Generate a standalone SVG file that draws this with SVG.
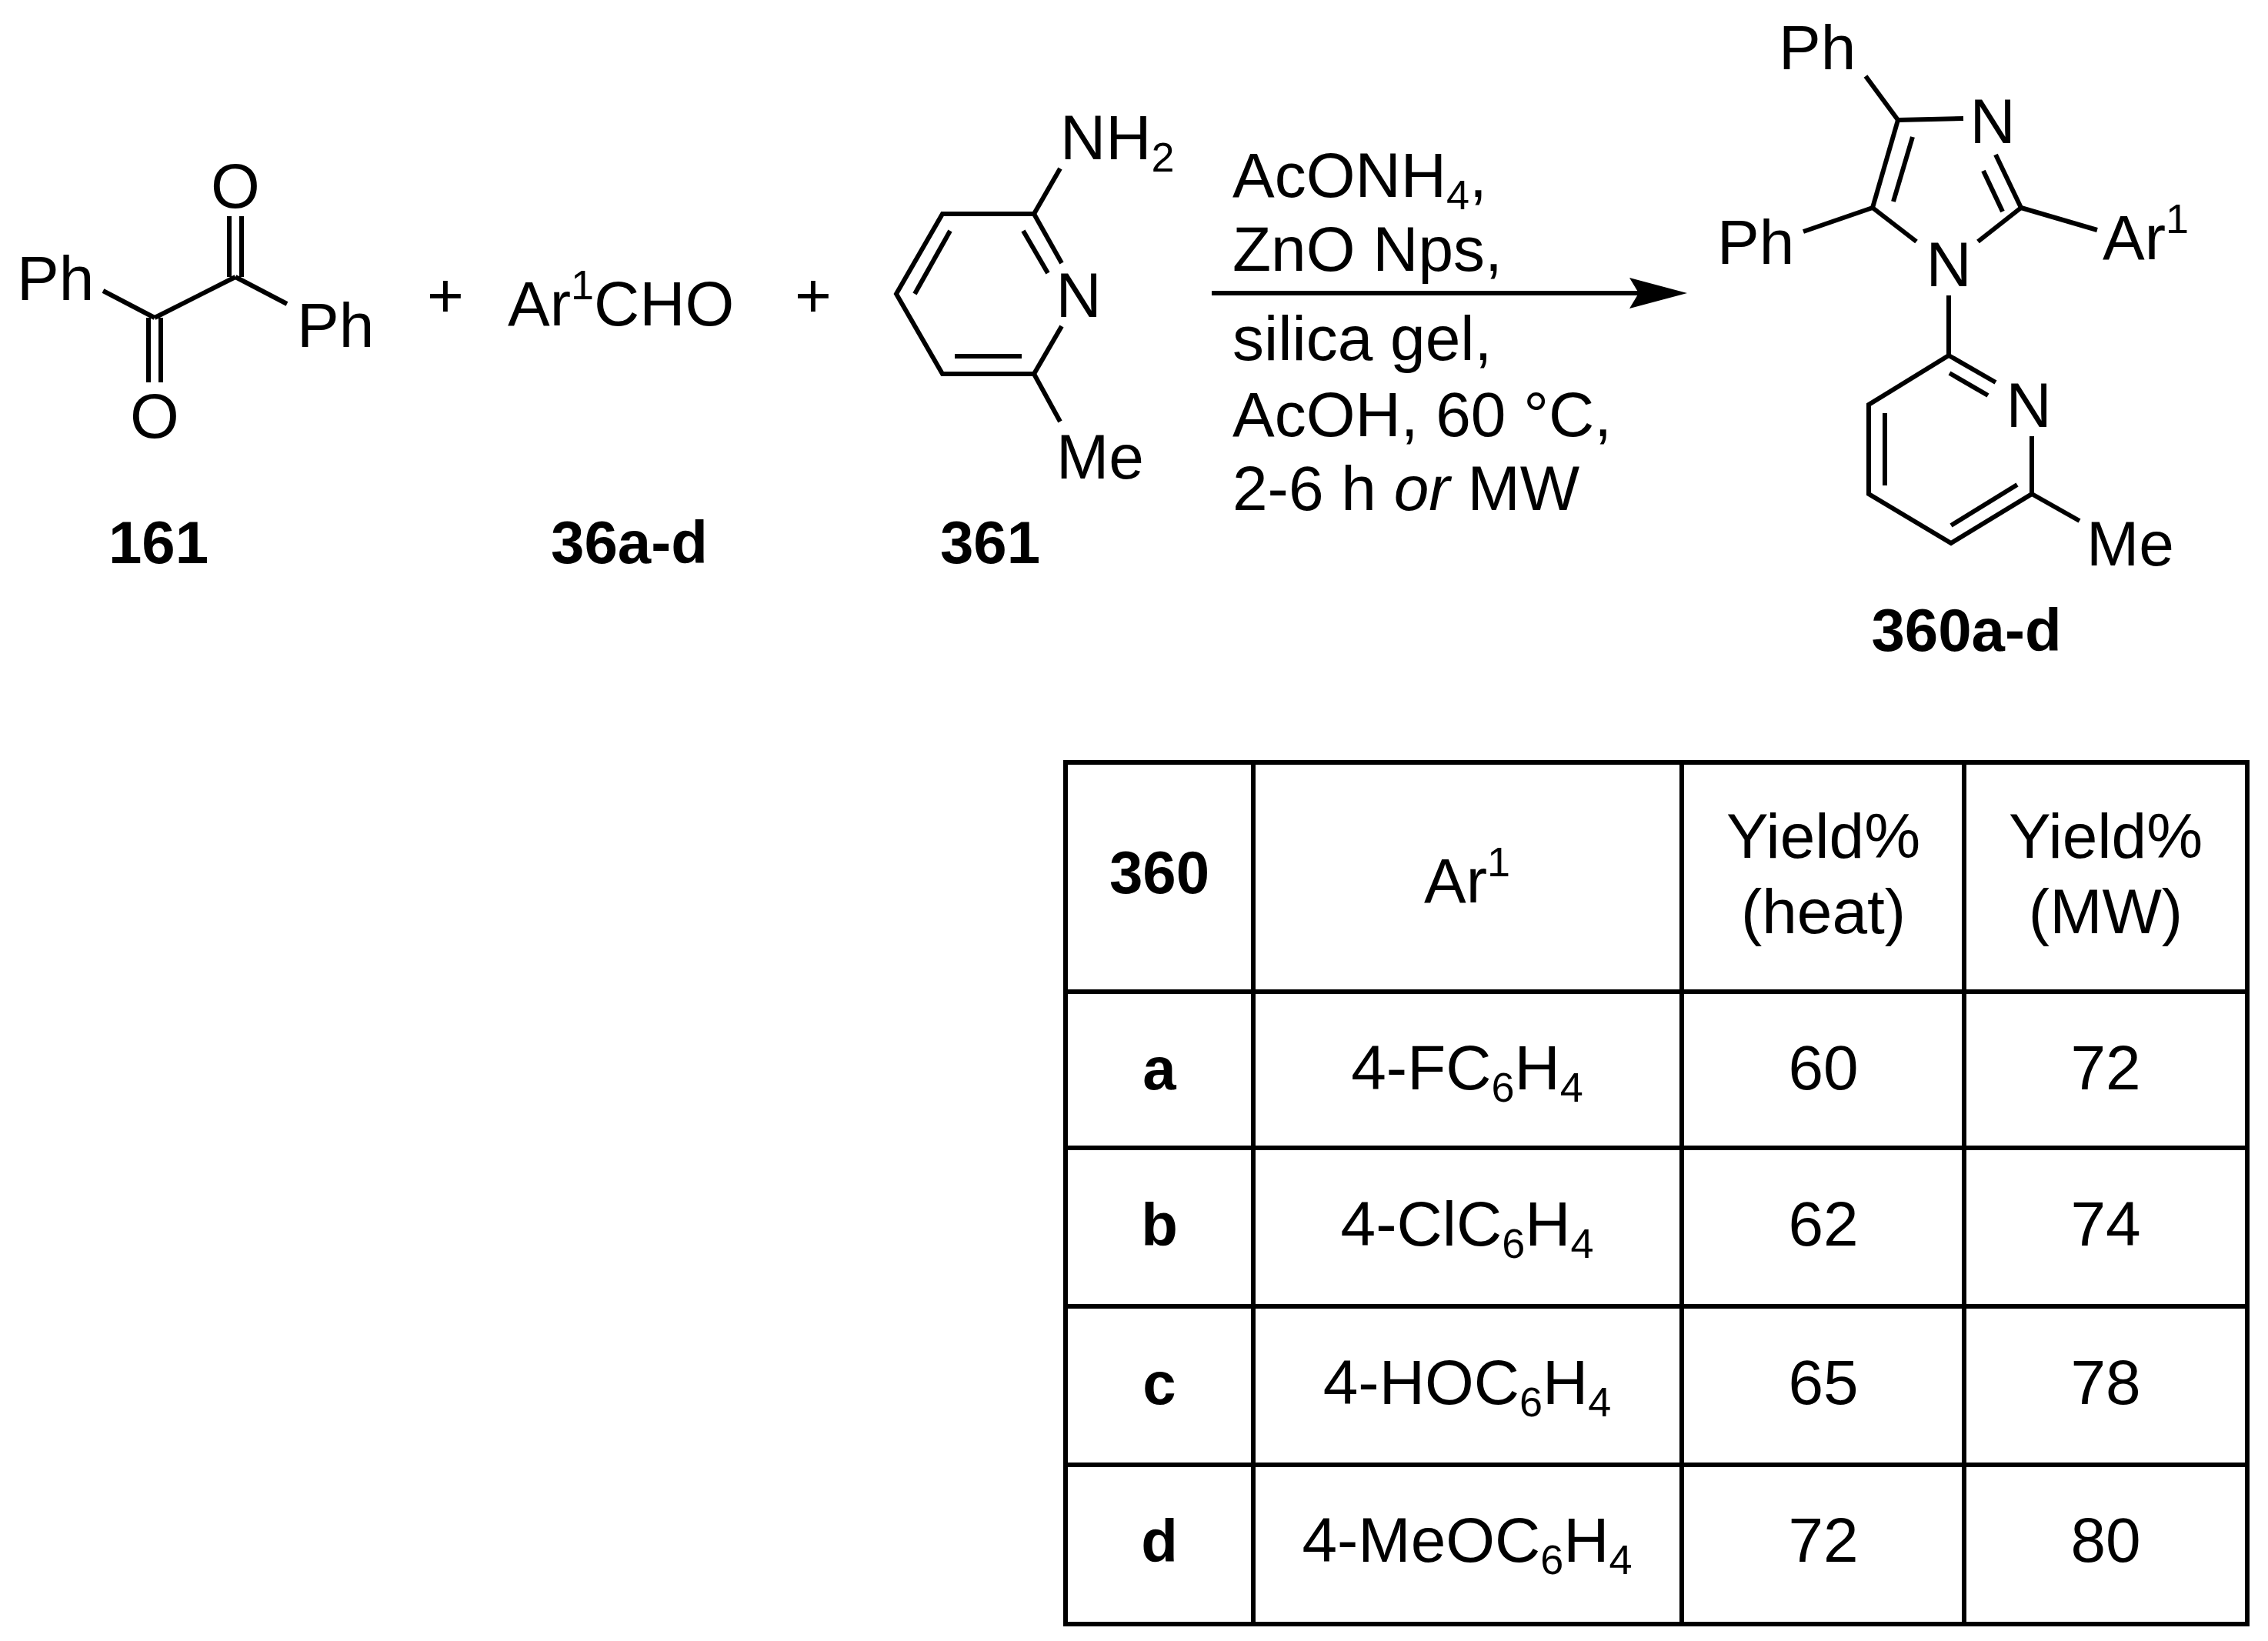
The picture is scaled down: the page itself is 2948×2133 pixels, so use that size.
<svg xmlns="http://www.w3.org/2000/svg" width="2948" height="2133" viewBox="0 0 2948 2133">
<style>
text{font-family:"Liberation Sans",Arial,sans-serif;font-size:82px;fill:#000}
.b{font-weight:bold;font-size:78px}
.m{text-anchor:middle}
.s{font-size:54px}
line,polyline,.t{stroke:#000;stroke-width:6;fill:none}
</style>
<rect width="2948" height="2133" fill="#fff"/>
<g id="c161">
<text x="22" y="390">Ph</text>
<text x="386" y="451">Ph</text>
<text x="306" y="270" class="m">O</text>
<text x="201" y="569" class="m">O</text>
<line x1="134" y1="378" x2="201" y2="413"/>
<line x1="201" y1="413" x2="306" y2="360"/>
<line x1="306" y1="360" x2="373" y2="395"/>
<line x1="298" y1="360" x2="298" y2="281"/><line x1="314" y1="360" x2="314" y2="281"/>
<line x1="193" y1="413" x2="193" y2="497"/><line x1="209" y1="413" x2="209" y2="497"/>
<text x="206" y="732" class="b m">161</text>
</g>
<text x="579" y="412" class="m">+</text>
<g id="c36"><text x="660" y="423">Ar<tspan class="s" dy="-34">1</tspan><tspan dy="34">CHO</tspan></text>
<text x="818" y="732" class="b m">36a-d</text></g>
<text x="1057" y="412" class="m">+</text>
<g id="c361">
<polyline points="1378,219 1344,278 1225,278 1165,382 1225,486 1344,486 1378,548"/>
<line x1="1344" y1="278" x2="1380" y2="342"/>
<line x1="1344" y1="486" x2="1380" y2="424"/>
<line x1="1330" y1="300" x2="1362" y2="355"/>
<line x1="1235" y1="300" x2="1189" y2="382"/>
<line x1="1241" y1="463" x2="1328" y2="463"/>
<text x="1402" y="412" class="m">N</text>
<text x="1378" y="207">NH<tspan class="s" dy="16">2</tspan></text>
<text x="1373" y="622">Me</text>
<text x="1287" y="732" class="b m">361</text>
</g>
<g id="connectors"><line x1="1575" y1="381" x2="2140" y2="381"/><path d="M2193,381 L2118,361 L2130,381 L2118,401 Z" fill="#000"/></g>
<g id="cond">
<text x="1602" y="256">AcONH<tspan class="s" dy="16">4</tspan><tspan dy="-16">,</tspan></text>
<text x="1602" y="352">ZnO Nps,</text>
<text x="1602" y="468">silica gel,</text>
<text x="1602" y="567">AcOH, 60 °C,</text>
<text x="1602" y="663">2-6 h <tspan font-style="italic">or</tspan> MW</text>
</g>
<g id="c360">
<text x="2312" y="90">Ph</text>
<text x="2232" y="343">Ph</text>
<text x="2733" y="337">Ar<tspan class="s" dy="-34">1</tspan></text>
<text x="2590" y="186" class="m">N</text>
<text x="2533" y="372" class="m">N</text>
<text x="2637" y="555" class="m">N</text>
<text x="2712" y="735">Me</text>
<line x1="2425" y1="99" x2="2467" y2="156"/>
<line x1="2467" y1="156" x2="2552" y2="154"/>
<line x1="2594" y1="201" x2="2627" y2="270"/>
<line x1="2578" y1="222" x2="2603" y2="275"/>
<line x1="2627" y1="270" x2="2726" y2="299"/>
<line x1="2627" y1="270" x2="2571" y2="314"/>
<line x1="2434" y1="270" x2="2491" y2="314"/>
<line x1="2434" y1="270" x2="2344" y2="301"/>
<line x1="2467" y1="156" x2="2434" y2="270"/>
<line x1="2486" y1="178" x2="2461" y2="262"/>
<line x1="2533" y1="384" x2="2533" y2="462"/>
<line x1="2533" y1="462" x2="2594" y2="497"/>
<line x1="2534" y1="485" x2="2584" y2="514"/>
<polyline points="2641,567 2641,642 2536,706 2429,642 2429,526 2533,462"/>
<line x1="2641" y1="642" x2="2703" y2="677"/>
<line x1="2622" y1="630" x2="2536" y2="683"/>
<line x1="2450" y1="537" x2="2450" y2="631"/>
<text x="2556" y="846" class="b m">360a-d</text>
</g>
<g id="table">
<rect class="t" x="1385" y="991" width="1536" height="1120"/>
<line x1="1629" y1="991" x2="1629" y2="2111"/><line x1="2186" y1="991" x2="2186" y2="2111"/><line x1="2553" y1="991" x2="2553" y2="2111"/>
<line x1="1385" y1="1289" x2="2921" y2="1289"/><line x1="1385" y1="1492" x2="2921" y2="1492"/><line x1="1385" y1="1698" x2="2921" y2="1698"/><line x1="1385" y1="1904" x2="2921" y2="1904"/>
<text x="1507" y="1161" class="b m">360</text>
<text x="1907" y="1173" class="m">Ar<tspan class="s" dy="-34">1</tspan></text>
<text x="2370" y="1115" class="m">Yield%</text><text x="2370" y="1213" class="m">(heat)</text>
<text x="2737" y="1115" class="m">Yield%</text><text x="2737" y="1213" class="m">(MW)</text>
<text x="1507" y="1416" class="b m">a</text><text x="1507" y="1619" class="b m">b</text><text x="1507" y="1825" class="b m">c</text><text x="1507" y="2030" class="b m">d</text>
<text x="1907" y="1416" class="m">4-FC<tspan class="s" dy="16">6</tspan><tspan dy="-16">H</tspan><tspan class="s" dy="16">4</tspan></text>
<text x="1907" y="1619" class="m">4-ClC<tspan class="s" dy="16">6</tspan><tspan dy="-16">H</tspan><tspan class="s" dy="16">4</tspan></text>
<text x="1907" y="1825" class="m">4-HOC<tspan class="s" dy="16">6</tspan><tspan dy="-16">H</tspan><tspan class="s" dy="16">4</tspan></text>
<text x="1907" y="2030" class="m">4-MeOC<tspan class="s" dy="16">6</tspan><tspan dy="-16">H</tspan><tspan class="s" dy="16">4</tspan></text>
<text x="2370" y="1416" class="m">60</text><text x="2737" y="1416" class="m">72</text>
<text x="2370" y="1619" class="m">62</text><text x="2737" y="1619" class="m">74</text>
<text x="2370" y="1825" class="m">65</text><text x="2737" y="1825" class="m">78</text>
<text x="2370" y="2030" class="m">72</text><text x="2737" y="2030" class="m">80</text>
</g>
</svg>
